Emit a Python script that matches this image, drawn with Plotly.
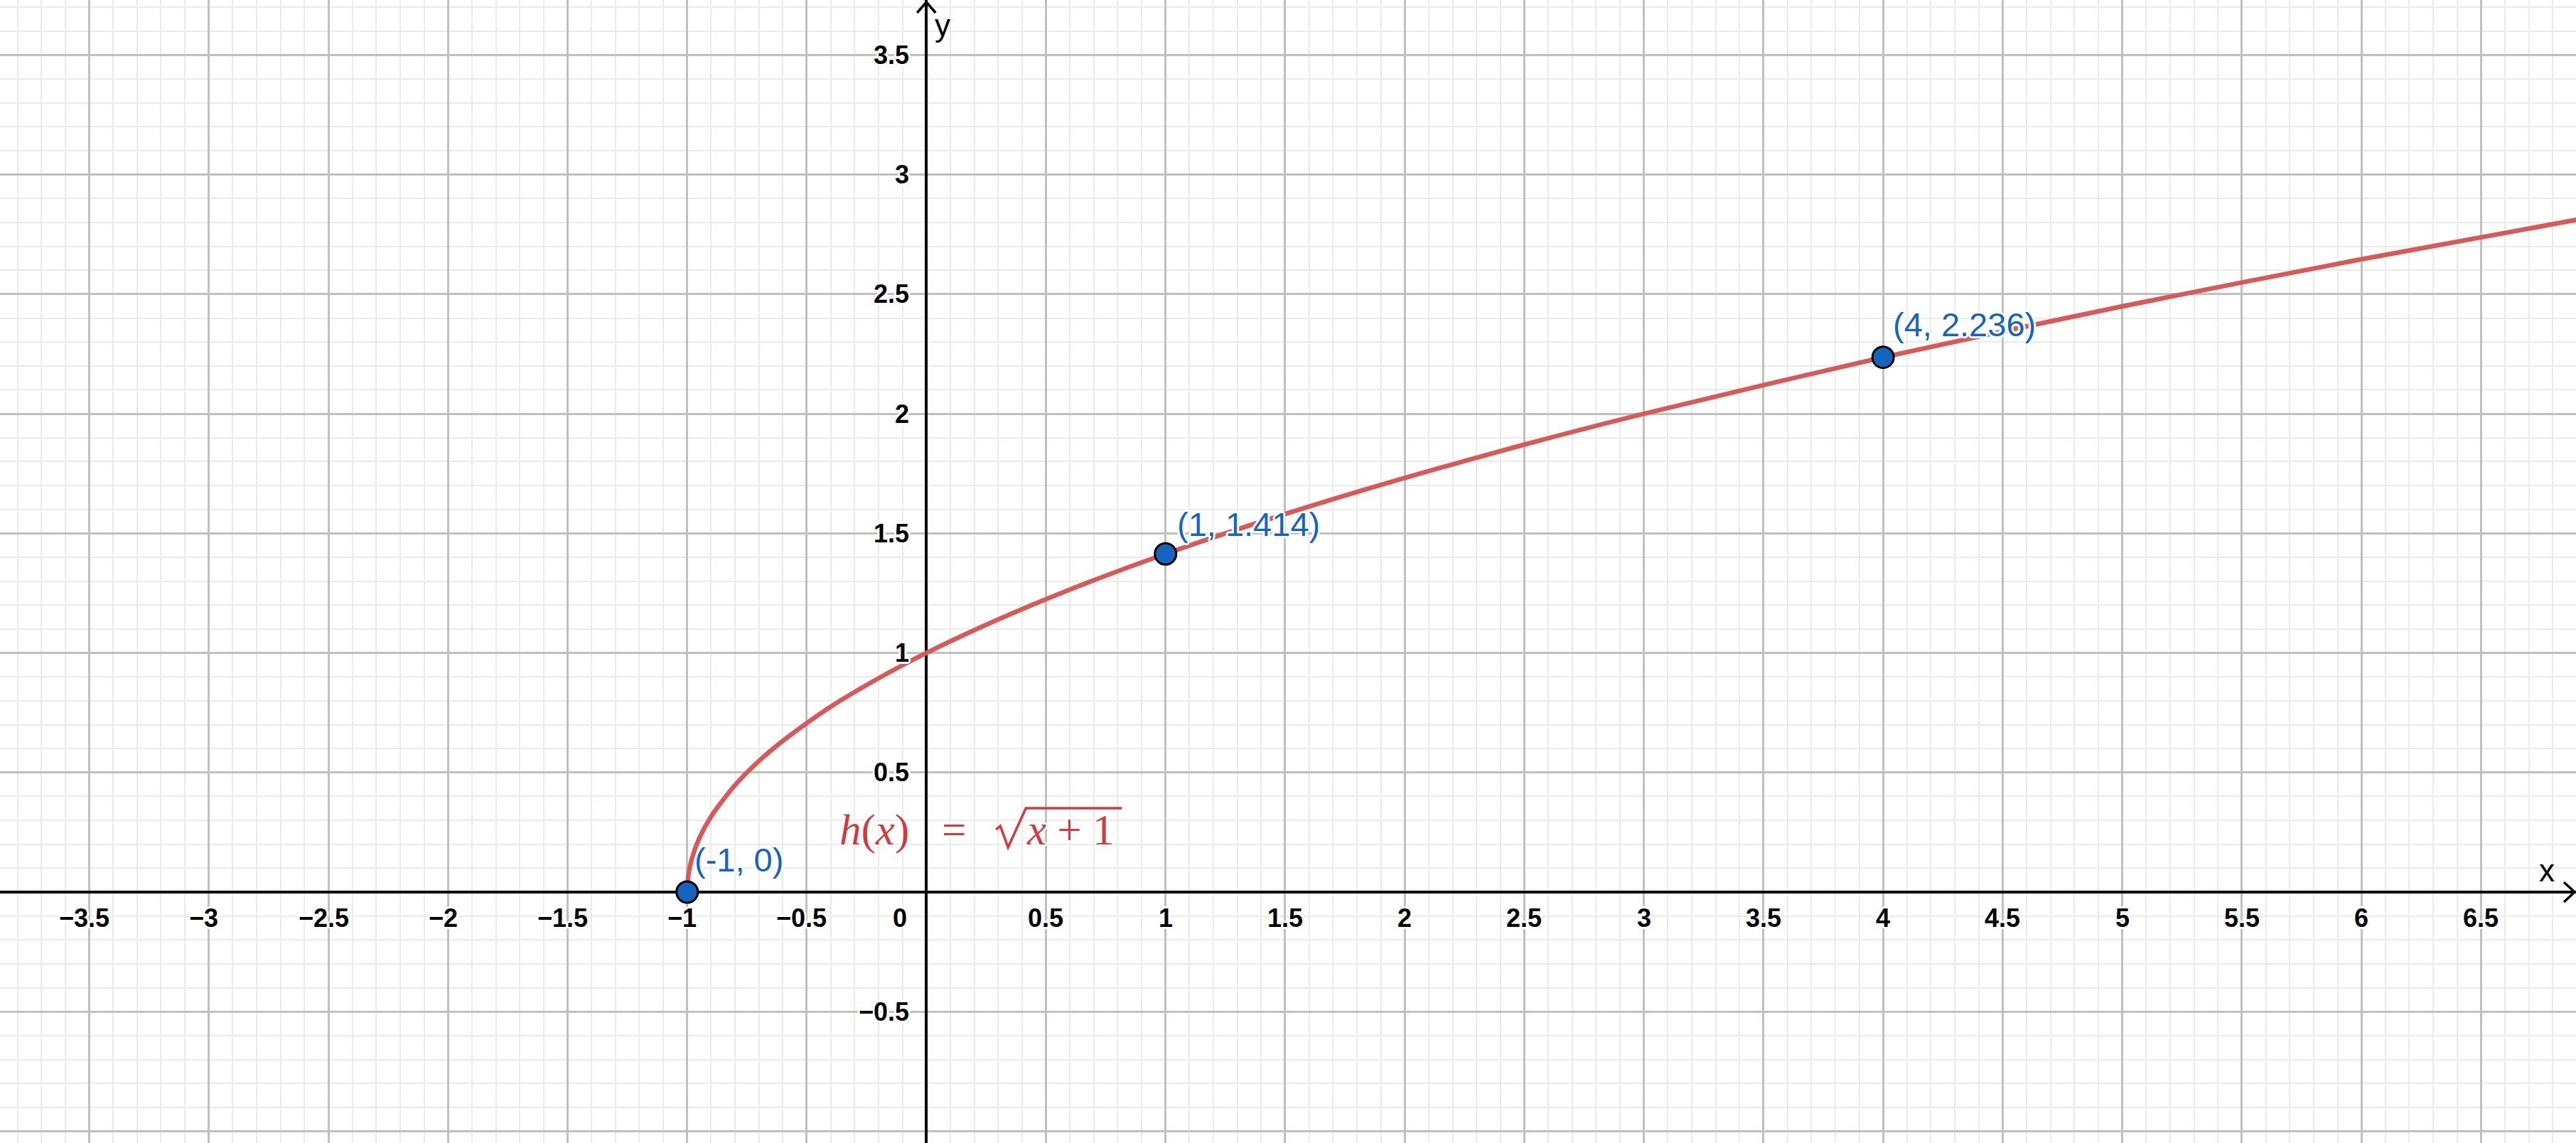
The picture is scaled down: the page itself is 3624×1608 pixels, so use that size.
import plotly.graph_objects as go

# ---------------- data ----------------
curve_x = [-1, -0.995, -0.98, -0.95, -0.9, -0.8, -0.7, -0.6, -0.4, -0.2, 0, 0.3, 0.6, 1,
           1.5, 2, 2.5, 3, 4, 5, 6, 6.9]
curve_y = [0, 0.071, 0.141, 0.224, 0.316, 0.447, 0.548, 0.632, 0.775, 0.894, 1, 1.14, 1.265,
           1.414, 1.581, 1.732, 1.871, 2, 2.236, 2.449, 2.646, 2.811]

point_x = [-1, 1, 4]
point_y = [0, 1.414, 2.236]
point_labels = ["(-1, 0)", "(1, 1.414)", "(4, 2.236)"]

x_tick_vals = [-3.5, -3, -2.5, -2, -1.5, -1, -0.5, 0, 0.5, 1, 1.5, 2, 2.5, 3, 3.5, 4, 4.5,
               5, 5.5, 6, 6.5]
x_tick_text = ["\u22123.5", "\u22123", "\u22122.5", "\u22122", "\u22121.5", "\u22121", "\u22120.5",
               "0", "0.5", "1", "1.5", "2", "2.5", "3", "3.5", "4", "4.5", "5", "5.5", "6", "6.5"]
y_tick_vals = [-0.5, 0.5, 1, 1.5, 2, 2.5, 3, 3.5]
y_tick_text = ["\u22120.5", "0.5", "1", "1.5", "2", "2.5", "3", "3.5"]

func_lhs = "<i>h</i>(<i>x</i>)"
func_eq = "="
func_rhs = "<i>x</i> + 1"

# ---------------- style ----------------
RED = "#D85A58"
RED_TEXT = "#D63B3B"
BLUE = "#1565C0"
X_RANGE = [-3.873, 6.897]
Y_RANGE = [-1.049, 3.730]

HALO = ("white 3px 0px 0px, white -3px 0px 0px, white 0px 3px 0px, white 0px -3px 0px, "
        "white 2px 2px 0px, white -2px -2px 0px, white 2px -2px 0px, white -2px 2px 0px")

tick_font = dict(family="Liberation Sans, Arial, sans-serif", size=36, color="black",
                 weight="bold", shadow=HALO)
label_font = dict(family="Liberation Sans, Arial, sans-serif", size=47, color=BLUE, shadow=HALO)
formula_font = dict(family="Liberation Serif, Times New Roman, serif", size=61, color=RED_TEXT,
                    shadow=HALO)

fig = go.Figure()

fig.add_trace(go.Scatter(
    x=curve_x, y=curve_y, mode="lines",
    line=dict(color=RED, width=6.5, shape="spline", smoothing=0.8),
    hoverinfo="skip"))

fig.add_trace(go.Scatter(
    x=point_x, y=point_y, mode="markers",
    marker=dict(size=30, color=BLUE, line=dict(color="black", width=3)),
    hoverinfo="skip"))

annotations = []
# x tick labels along the x axis
for v, t in zip(x_tick_vals, x_tick_text):
    if v == 0:
        xs = -37
    elif v < 0:
        xs = -7
    else:
        xs = 0
    annotations.append(dict(x=v, y=0, xref="x", yref="y", text=t, showarrow=False,
                            xanchor="center", yanchor="middle", xshift=xs, yshift=-36,
                            font=tick_font))
# y tick labels along the y axis
for v, t in zip(y_tick_vals, y_tick_text):
    annotations.append(dict(x=0, y=v, xref="x", yref="y", text=t, showarrow=False,
                            xanchor="right", yanchor="middle", xshift=-22, yshift=0,
                            font=tick_font))
# point labels
label_shifts = [(8, 46), (14, 42), (12, 46)]
for px, py, t, (xs, ys) in zip(point_x, point_y, point_labels, label_shifts):
    annotations.append(dict(x=px, y=py, xref="x", yref="y", text=t, showarrow=False,
                            xanchor="left", yanchor="middle", xshift=xs, yshift=ys,
                            font=label_font))

# function label (pieces placed with pixel offsets from the origin)
FORM_Y = 0.259
annotations.append(dict(x=0, y=FORM_Y, xref="x", yref="y", text=func_lhs, showarrow=False,
                        xanchor="left", yanchor="middle", xshift=-124, font=formula_font))
annotations.append(dict(x=0, y=FORM_Y, xref="x", yref="y", text=func_eq, showarrow=False,
                        xanchor="center", yanchor="middle", xshift=39, font=formula_font))
annotations.append(dict(x=0, y=FORM_Y, xref="x", yref="y", text=func_rhs, showarrow=False,
                        xanchor="left", yanchor="middle", xshift=139, font=formula_font))

# axis names
annotations.append(dict(x=X_RANGE[1], y=0, xref="x", yref="y", text="x", showarrow=False,
                        xanchor="right", yanchor="bottom", xshift=-28, yshift=4,
                        font=dict(family="Liberation Sans, Arial, sans-serif", size=44,
                                  color="black")))
annotations.append(dict(x=0, y=Y_RANGE[1], xref="x", yref="y", text="y", showarrow=False,
                        xanchor="left", yanchor="top", xshift=10, yshift=-9,
                        font=dict(family="Liberation Sans, Arial, sans-serif", size=44,
                                  color="black")))

shapes = [
    # arrowhead of x axis
    dict(type="path", xref="x", yref="y", xsizemode="pixel", ysizemode="pixel",
         xanchor=X_RANGE[1], yanchor=0, path="M -17,14 L -2,0 L -17,-14",
         line=dict(color="black", width=3.5)),
    # arrowhead of y axis
    dict(type="path", xref="x", yref="y", xsizemode="pixel", ysizemode="pixel",
         xanchor=0, yanchor=Y_RANGE[1], path="M -13,-18 L 0,-3 L 13,-18",
         line=dict(color="black", width=3.5)),
    # radical sign of the formula label
    dict(type="path", xref="x", yref="y", xsizemode="pixel", ysizemode="pixel",
         xanchor=0, yanchor=0, path="M 98,88 L 104,93 L 115,63 L 140,118 L 275,118",
         line=dict(color=RED_TEXT, width=3.5)),
]

grid_common = dict(
    tick0=0, dtick=0.5, showgrid=True, gridcolor="#c0c0c0", gridwidth=2.5,
    zeroline=True, zerolinecolor="black", zerolinewidth=3.5,
    showticklabels=False, ticks="", showline=False, fixedrange=True,
    minor=dict(tick0=0, dtick=0.1, showgrid=True, gridcolor="#ebebeb", gridwidth=2),
)

fig.update_layout(
    width=3624, height=1608,
    margin=dict(l=0, r=0, t=0, b=0),
    paper_bgcolor="white", plot_bgcolor="white",
    showlegend=False,
    xaxis=dict(range=X_RANGE, **grid_common),
    yaxis=dict(range=Y_RANGE, **grid_common),
    annotations=annotations,
    shapes=shapes,
)

fig.write_html("out.html", config={"displayModeBar": False},
               post_script="document.body.style.margin='0';")
